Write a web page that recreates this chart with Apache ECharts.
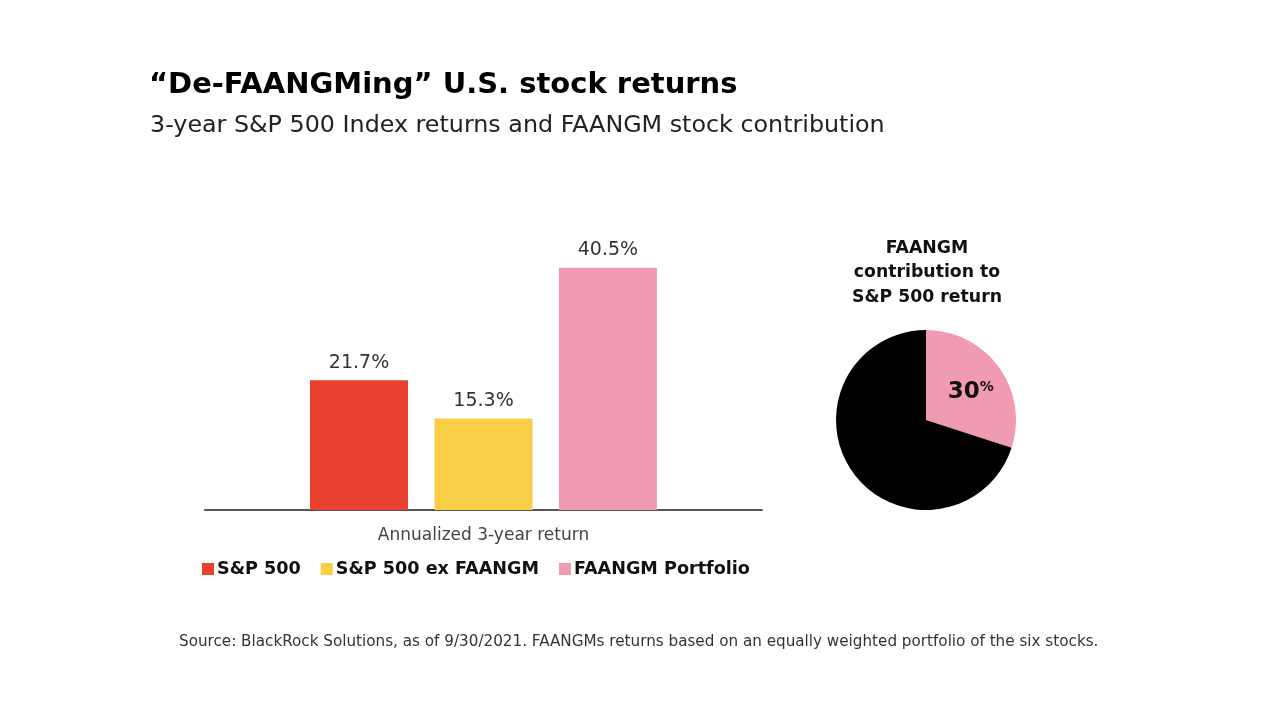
<!DOCTYPE html>
<html>
<head>
<meta charset="utf-8">
<script src="https://cdn.jsdelivr.net/npm/echarts@6/dist/echarts.min.js"></script>
<style>
  html, body { margin: 0; padding: 0; background: #fff; }
  #chart { width: 1280px; height: 720px; }
</style>
</head>
<body>
<div id="chart"></div>
<script>
// bar chart data
var categories = ['Annualized 3-year return'];
var seriesNames = ['S&P 500', 'S&P 500 ex FAANGM', 'FAANGM Portfolio'];
var returns = [21.7, 15.3, 40.5];
var barColors = ['#e8412f', '#f8cf47', '#f09bb2'];

// pie data
var pieNames = ['FAANGM', 'Rest of S&P 500'];
var pieValues = [30, 70];
var pieColors = ['#f09bb2', '#000000'];

var font = 'DejaVu Sans';
var chart = echarts.init(document.getElementById('chart'));

var barSeries = seriesNames.map(function (name, i) {
    return {
        name: name,
        type: 'bar',
        data: [returns[i]],
        barWidth: 98,
        barGap: '27%',
        itemStyle: { color: barColors[i] },
        label: {
            show: true,
            position: 'top',
            distance: 8,
            formatter: '{c}%',
            color: '#333',
            fontFamily: font,
            fontSize: 19
        }
    };
});

var option = {
    backgroundColor: '#fff',
    title: [{
        text: '\u201cDe-FAANGMing\u201d U.S. stock returns',
        left: 144,
        top: 66,
        textStyle: { fontFamily: font, fontSize: 29, fontWeight: 'bold', color: '#000' }
    }, {
        text: '3-year S&P 500 Index returns and FAANGM stock contribution',
        left: 145,
        top: 109,
        textStyle: { fontFamily: font, fontSize: 23.8, fontWeight: 'normal', color: '#222' }
    }, {
        text: 'FAANGM\ncontribution to\nS&P 500 return',
        left: 922,
        top: 231,
        textAlign: 'center',
        textStyle: { fontFamily: font, fontSize: 17.3, fontWeight: 'bold', color: '#111', lineHeight: 24.5 }
    }, {
        text: 'Source: BlackRock Solutions, as of 9/30/2021. FAANGMs returns based on an equally weighted portfolio of the six stocks.',
        left: 174,
        top: 630,
        textStyle: { fontFamily: font, fontSize: 15.2, fontWeight: 'normal', color: '#333' }
    }],
    legend: {
        data: seriesNames,
        left: 197,
        top: 555,
        itemWidth: 12,
        itemHeight: 12,
        itemGap: 20,
        icon: 'rect',
        textStyle: { fontFamily: font, fontSize: 17.6, fontWeight: 'bold', color: '#111', padding: [0, 0, 0, -2] }
    },
    grid: { left: 205, width: 557, top: 211, height: 299 },
    xAxis: {
        type: 'category',
        data: categories,
        axisLine: { lineStyle: { color: '#555', width: 2 } },
        axisTick: { show: false },
        axisLabel: { fontFamily: font, fontSize: 17, color: '#444', margin: 17 }
    },
    yAxis: {
        type: 'value',
        min: 0,
        max: 50,
        show: false,
        splitLine: { show: false }
    },
    series: barSeries.concat([{
        type: 'pie',
        center: [926, 420],
        radius: 90,
        startAngle: 90,
        clockwise: true,
        silent: true,
        data: pieNames.map(function (n, i) {
            return {
                name: n,
                value: pieValues[i],
                itemStyle: { color: pieColors[i] },
                label: { show: i === 0 }
            };
        }),
        label: {
            position: 'inside',
            formatter: function (p) { return '{v|' + p.value + '}{p|%}'; },
            rich: {
                v: { fontFamily: font, fontSize: 23, fontWeight: 'bold', color: '#111', padding: [0, 0, 0, 12] },
                p: { fontFamily: font, fontSize: 14, fontWeight: 'bold', color: '#111', verticalAlign: 'top', padding: [0, 0, 8, 0] }
            }
        },
        labelLine: { show: false }
    }])
};

chart.setOption(option);
</script>
</body>
</html>
